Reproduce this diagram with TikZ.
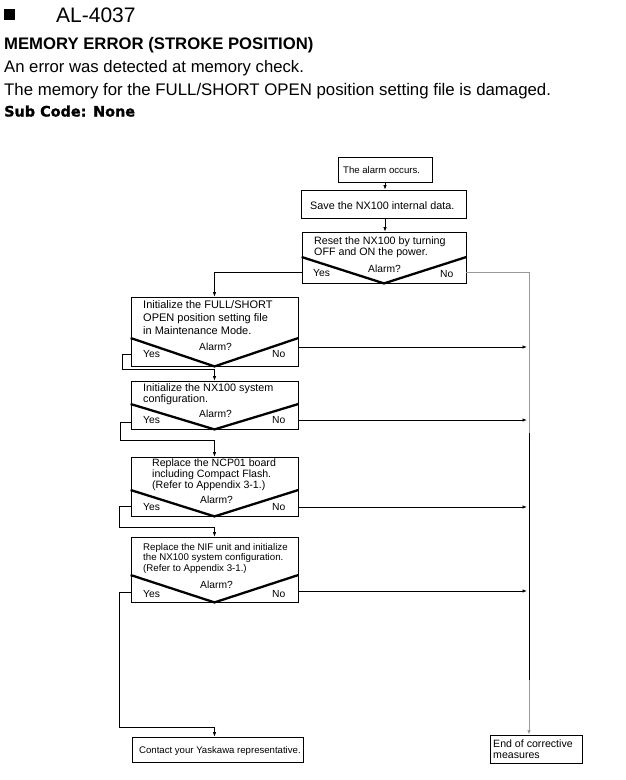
\documentclass[tikz,border=0pt]{standalone}
\usepackage{fontspec}
\setmainfont{Liberation Sans}
\newfontfamily\subfont{DejaVu Sans}[BoldFeatures={FakeBold=1.2}]
\usetikzlibrary{arrows.meta}
\newcommand\fsz[1]{\fontsize{#1}{12}\selectfont}
\newcommand\mylines[3]{{\fontsize{#1}{#2}\selectfont\begin{tabular}[t]{@{}l@{}}#3\end{tabular}}}
\begin{document}
\begin{tikzpicture}[x=1pt,y=-1pt,
  box/.style={draw, line width=0.8pt, inner sep=0pt},
  txt/.style={inner sep=0pt, anchor=base west, font=\fsz{9.6}},
  lbl/.style={inner sep=0pt, anchor=base west, font=\fsz{10.3}},
  vline/.style={line width=2.3pt},
  conn/.style={line width=0.8pt},
  arr/.style={conn, -{Latex[length=4.5pt,width=3.5pt]}},
  grayconn/.style={line width=1pt, draw=black!40}]
\useasboundingbox[fill=white] (0,0) rectangle (626,780);

% header
\node[fill=black, minimum size=11pt, inner sep=0pt] (sq) at (9.5,14.5) {};
\node[anchor=base west, inner sep=0pt, font=\fontsize{21}{25}\selectfont] (al) at (56,22) {AL-4037};
\node[anchor=base west, inner sep=0pt, font=\bfseries\fontsize{16.7}{20}\selectfont] (h1) at (4,49.5) {MEMORY ERROR (STROKE POSITION)};
\node[anchor=base west, inner sep=0pt, font=\fontsize{16.7}{20}\selectfont] (l1) at (4,72.5) {An error was detected at memory check.};
\node[anchor=base west, inner sep=0pt, font=\fontsize{16.8}{20}\selectfont] (l2) at (4,95.5) {The memory for the FULL/SHORT OPEN position setting file is damaged.};
\node[anchor=base west, inner sep=0pt, font=\subfont\bfseries\fontsize{14.4}{17}\selectfont] (sc) at (4,116.5) {Sub Code: None};

% boxes
\node[box, minimum width=94pt, minimum height=25pt] (b1) at (385,169.5) {};
\node[box, minimum width=165pt, minimum height=28pt] (b2) at (383.5,204) {};
\node[box, minimum width=164pt, minimum height=51pt] (b3) at (384,257.5) {};
\node[box, minimum width=167pt, minimum height=69pt] (b4) at (214.5,331.5) {};
\node[box, minimum width=167pt, minimum height=48pt] (b5) at (214.5,405) {};
\node[box, minimum width=167pt, minimum height=59pt] (b6) at (214.5,486.5) {};
\node[box, minimum width=167pt, minimum height=65pt] (b7) at (214.5,569.5) {};
\node[box, minimum width=171pt, minimum height=25pt] (b8) at (217.5,749.5) {};
\node[box, minimum width=92pt, minimum height=28pt] (be) at (536,749) {};

% decision V shapes
\draw[vline] (b3.west |- 0,257) -- (b3.south) -- (b3.east |- 0,257);
\draw[vline] (b4.west |- 0,338) -- (b4.south) -- (b4.east |- 0,338);
\draw[vline] (b5.west |- 0,404) -- (b5.south) -- (b5.east |- 0,404);
\draw[vline] (b6.west |- 0,490) -- (b6.south) -- (b6.east |- 0,490);
\draw[vline] (b7.west |- 0,575) -- (b7.south) -- (b7.east |- 0,575);

% texts
\node[txt] (t1) at (343,173) {The alarm occurs.};
\node[txt, font=\fsz{10.8}] (t2) at (310,209) {Save the NX100 internal data.};
\node[txt] (t3) at (314,244.5) {\mylines{10.7}{10.5}{Reset the NX100 by turning\\OFF and ON the power.}};
\node[lbl] (y3) at (313,276) {Yes};
\node[lbl] (q3) at (368,272) {Alarm?};
\node[lbl] (n3) at (440,277) {No};

\node[txt] (t4) at (143,308.5) {\mylines{11}{12.8}{Initialize the FULL/SHORT\\OPEN position setting file\\in Maintenance Mode.}};
\node[lbl] (y4) at (143,357) {Yes};
\node[lbl] (q4) at (199,350) {Alarm?};
\node[lbl] (n4) at (272,357) {No};

\node[txt] (t5) at (143,391.5) {\mylines{10.8}{11.3}{Initialize the NX100 system\\configuration.}};
\node[lbl] (y5) at (143,423) {Yes};
\node[lbl] (q5) at (199,417) {Alarm?};
\node[lbl] (n5) at (272,423) {No};

\node[txt] (t6) at (152,466.3) {\mylines{10.6}{11.2}{Replace the NCP01 board\\including Compact Flash.\\(Refer to Appendix 3-1.)}};
\node[lbl] (y6) at (143,510) {Yes};
\node[lbl] (q6) at (200,503) {Alarm?};
\node[lbl] (n6) at (272,510) {No};

\node[txt] (t7) at (143,550) {\mylines{9.7}{10.8}{Replace the NIF unit and initialize\\the NX100 system configuration.\\(Refer to Appendix 3-1.)}};
\node[lbl] (y7) at (143,597) {Yes};
\node[lbl] (q7) at (200,588) {Alarm?};
\node[lbl] (n7) at (272,597) {No};

\node[txt] (t8) at (139,753) {Contact your Yaskawa representative.};
\node[txt] (te) at (493,747) {\mylines{10.6}{11.2}{End of corrective\\measures}};

% connectors
\coordinate (rx) at (529,0);
\draw[arr] (b1.south) -- (b1.south |- b2.north);
\draw[arr] (b1.south |- b2.south) -- (b1.south |- b3.north);
\draw[arr] (b3.west |- 0,272) -| (b4.north);
\draw[grayconn] (b3.east |- 0,272) -| (rx |- 0,433);
\draw[conn] (rx |- 0,433) -- (rx |- 0,680);
\draw[grayconn, -{Latex[length=4.5pt,width=3.5pt]}] (rx |- 0,680) -- (rx |- be.north);

\draw[arr] (b4.west |- 0,354) -- (122,354) -- (122,369) -| (b5.north);
\draw[arr] (b5.west |- 0,422) -- (120,422) -- (120,440) -| (b6.north);
\draw[arr] (b6.west |- 0,506) -- (119,506) -- (119,527) -| (b7.north);
\draw[arr] (b7.west |- 0,592) -- (119,592) -- (119,727) -| (b8.north -| b7.south);

\draw[arr] (b4.east |- 0,347) -- (527,347);
\draw[arr] (b5.east |- 0,420) -- (527,420);
\draw[arr] (b6.east |- 0,507) -- (527,507);
\draw[arr] (b7.east |- 0,591) -- (527,591);
\end{tikzpicture}
\end{document}
